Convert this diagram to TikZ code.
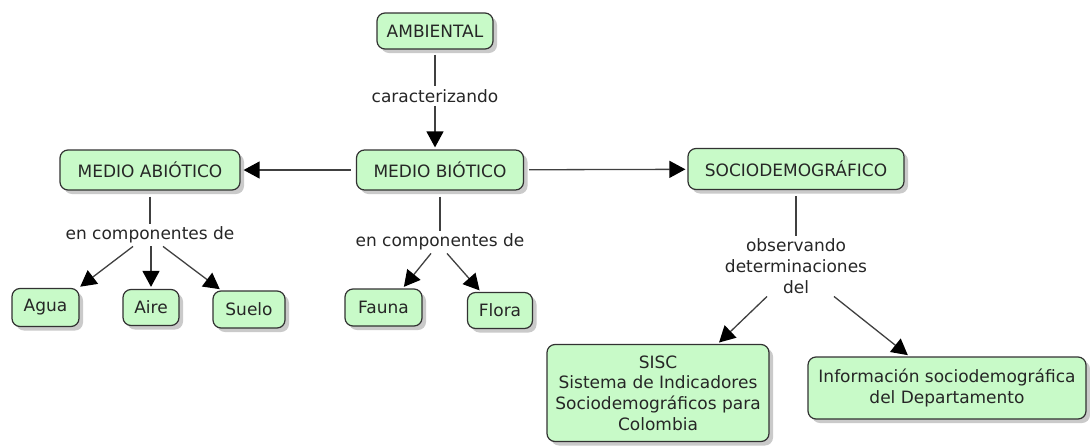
\documentclass[tikz,border=0pt]{standalone}
\usepackage{fontspec}
\setmainfont{DejaVu Sans}
\usetikzlibrary{arrows.meta,shadows}
\definecolor{verdeconcepto}{RGB}{200,250,200}
\definecolor{bordeconcepto}{RGB}{50,50,50}

\begin{document}
\begin{tikzpicture}[x=1pt,y=-1pt]
                        \tikzstyle{concepto}=[draw=bordeconcepto, line width=1.2pt, fill=verdeconcepto, rounded corners=8pt, drop shadow={shadow xshift=4pt, shadow yshift=-4pt, fill=black!35, opacity=0.6}, text=black!85, font=\fontsize{17}{20.7}\selectfont, align=center, inner sep=0pt]
                        \tikzstyle{enlace}=[text=black!85, font=\fontsize{17}{20.7}\selectfont, align=center, inner sep=3pt]
                        \tikzstyle{linea}=[draw=black!75, line width=1.3pt]
                        \tikzstyle{flecha}=[linea, -{Triangle[length=16pt,width=17pt,color=black,fill=black]}]
                        \useasboundingbox (0,0) rectangle (1090,445);
                        % conceptos
                        \node[concepto, minimum width=116pt, minimum height=36pt] (ambiental) at (435,31) {AMBIENTAL};
                        \node[concepto, minimum width=167pt, minimum height=40pt] (biotico) at (440,170) {MEDIO BIÓTICO};
                        \node[concepto, minimum width=180pt, minimum height=40pt] (abiotico) at (150,170) {MEDIO ABIÓTICO};
                        \node[concepto, minimum width=216pt, minimum height=41pt] (socio) at (796,169) {SOCIODEMOGRÁFICO};
                        \node[concepto, minimum width=67pt, minimum height=38pt] (agua) at (45.5,307.5) {Agua};
                        \node[concepto, minimum width=56pt, minimum height=36pt] (aire) at (151,307.5) {Aire};
                        \node[concepto, minimum width=72pt, minimum height=37pt] (suelo) at (249,309.5) {Suelo};
                        \node[concepto, minimum width=77pt, minimum height=37pt] (fauna) at (383.5,307.5) {Fauna};
                        \node[concepto, minimum width=65pt, minimum height=36pt] (flora) at (500,310.5) {Flora};
                        \node[concepto, minimum width=222pt, minimum height=97pt] (sisc) at (658,393) {SISC\\Sistema de Indicadores\\Sociodemográficos para\\Colombia};
                        \node[concepto, minimum width=278pt, minimum height=62pt] (info) at (947,388) {Información sociodemográfica\\del Departamento};
                        % frases de enlace
                        \node[enlace] (caracterizando) at (435,96) {caracterizando};
                        \node[enlace] (compabiotico) at (150,235) {en componentes de};
                        \node[enlace] (compbiotico) at (440,242) {en componentes de};
                        \node[enlace] (observando) at (796,266) {observando\\determinaciones\\del};
                        % conexiones
                        \draw[linea, shorten <=5pt] (ambiental) -- (caracterizando);
                        \draw[flecha, shorten >=2pt] (caracterizando.south) -- (caracterizando.south |- biotico.north);
                        \draw[flecha, shorten <=5pt, shorten >=3pt] (biotico) -- (abiotico);
                        \draw[flecha, shorten <=5pt, shorten >=2pt] (biotico) -- (socio);
                        \draw[linea, shorten <=6pt] (abiotico) -- (compabiotico);
                        \draw[flecha, shorten >=2pt] ([xshift=-17pt]compabiotico.south) -- ([xshift=-1pt]agua.north east);
                        \draw[flecha, shorten >=2pt] (compabiotico.south -| aire.north) -- (aire.north);
                        \draw[flecha, shorten >=2pt] ([xshift=13pt]compabiotico.south) -- ([xshift=9pt]suelo.north west);
                        \draw[linea, shorten <=6pt] (biotico) -- (compbiotico);
                        \draw[flecha, shorten >=2pt] ([xshift=-9pt]compbiotico.south) -- ([xshift=-20pt]fauna.north east);
                        \draw[flecha, shorten >=2pt] ([xshift=7pt]compbiotico.south) -- ([xshift=14pt]flora.north west);
                        \draw[linea, shorten <=6pt] (socio) -- (observando);
                        \draw[flecha, shorten >=2pt] ([xshift=-29pt]observando.south) -- ([xshift=-52pt]sisc.north east);
                        \draw[flecha, shorten >=2pt] ([xshift=38pt]observando.south) -- ([xshift=102pt]info.north west);
                    \end{tikzpicture}
\end{document}
